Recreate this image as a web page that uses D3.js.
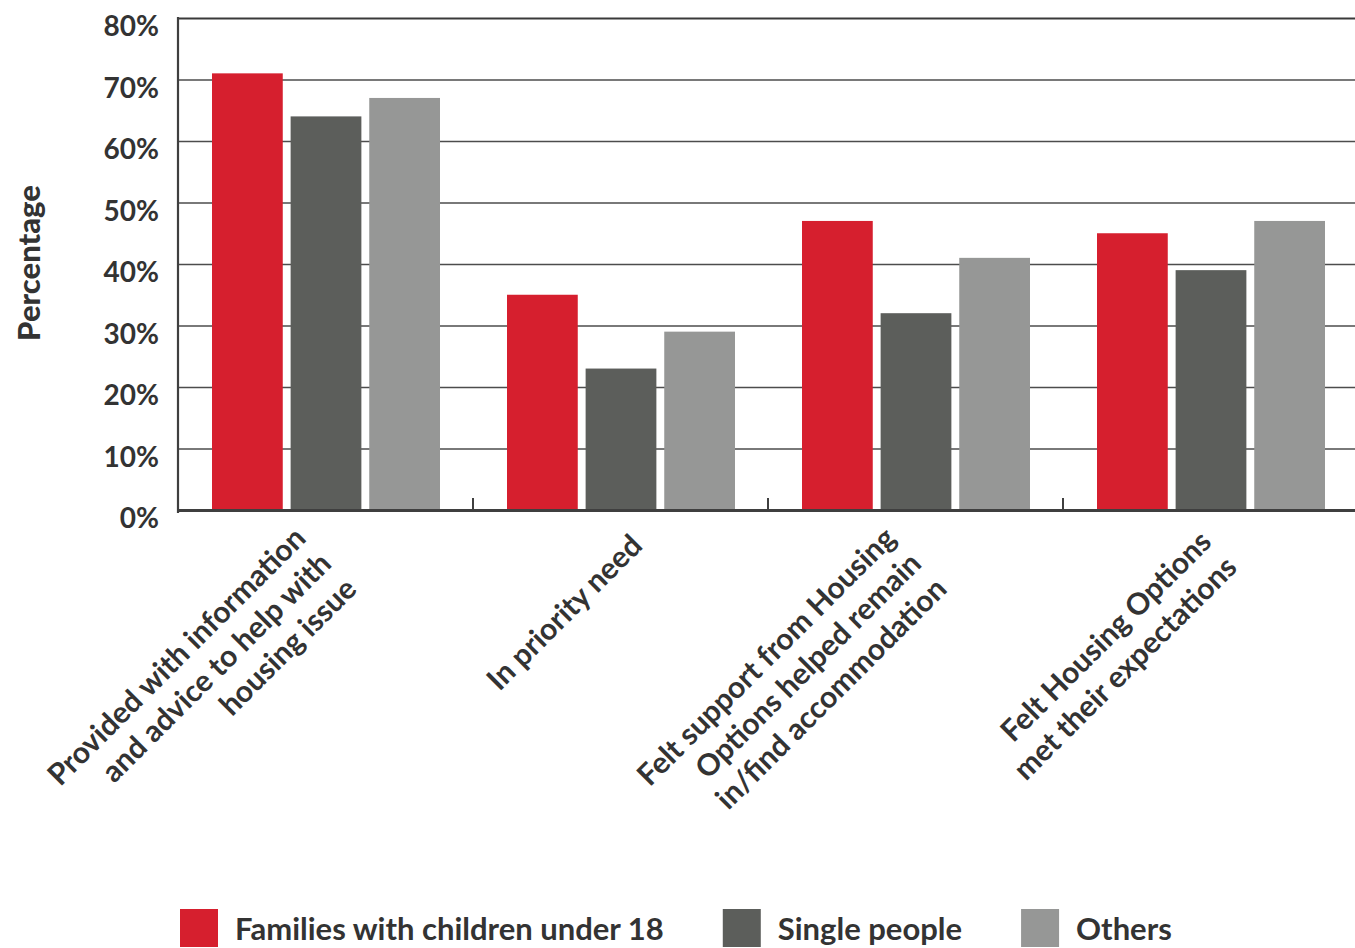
<!DOCTYPE html>
<html>
<head>
<meta charset="utf-8">
<script src="https://cdn.jsdelivr.net/npm/d3@7"></script>
<style>
  html, body { margin: 0; padding: 0; background: #fff; }
  svg { display: block; }
  text { font-family: Lato, "Noto Sans", sans-serif; fill: #333; }
</style>
</head>
<body>
<svg id="chart" width="1355" height="948"></svg>
<script>
// Survey outcomes by household type (percent of respondents)
const categoryLines = [
  ["Provided with information", "and advice to help with", "housing issue"],
  ["In priority need"],
  ["Felt support from Housing", "Options helped remain", "in/find accommodation"],
  ["Felt Housing Options", "met their expectations"]
];
const seriesNames = ["Families with children under 18", "Single people", "Others"];
const families = [71, 35, 47, 45];
const singlePeople = [64, 23, 32, 39];
const others = [67, 29, 41, 47];
const yTicks = [0, 10, 20, 30, 40, 50, 60, 70, 80];
const colors = ["#d61f2e", "#5c5e5b", "#969796"];

(function () {
  const seriesValues = [families, singlePeople, others];
  const rows = categoryLines.map((lines, i) => ({
    key: i,
    lines,
    values: seriesValues.map((vals, s) => ({ series: s, value: vals[i] }))
  }));

  const svg = d3.select("#chart");
  const plotLeft = 178, plotRight = 1358, plotTop = 18, plotBottom = 510;

  const x0 = d3.scaleBand().domain(rows.map(d => d.key)).range([plotLeft, plotRight]).padding(0);
  const x1 = d3.scaleBand().domain(d3.range(seriesNames.length))
    .range([34, x0.bandwidth() - 33]).paddingInner(0.1).paddingOuter(0);
  const y = d3.scaleLinear().domain([0, 80]).range([plotBottom, plotTop]);

  // Horizontal gridlines
  const grid = svg.append("g")
    .attr("transform", `translate(${plotLeft},0)`)
    .call(d3.axisLeft(y).tickValues(yTicks).tickSize(-(1355 - plotLeft)).tickFormat(""));
  grid.select(".domain").remove();
  grid.selectAll(".tick line")
    .attr("stroke", d => d === 80 ? "#3a3a3a" : "#4d4d4d")
    .attr("stroke-width", d => d === 80 ? 2.2 : 1.6);

  // Y tick labels (sit slightly below their gridline)
  svg.append("g").selectAll("text")
    .data(yTicks)
    .join("text")
    .attr("x", 159)
    .attr("y", d => y(d) + 8)
    .attr("dy", "0.36em")
    .attr("text-anchor", "end")
    .attr("font-size", 28)
    .attr("font-weight", 700)
    .text(d => d + "%");

  // Bars
  const groups = svg.append("g").selectAll("g")
    .data(rows)
    .join("g")
    .attr("transform", d => `translate(${x0(d.key)},0)`);
  groups.selectAll("rect")
    .data(d => d.values)
    .join("rect")
    .attr("x", d => x1(d.series))
    .attr("width", x1.bandwidth())
    .attr("y", d => y(d.value))
    .attr("height", d => y(0) - y(d.value))
    .attr("fill", d => colors[d.series]);

  // Left axis line
  svg.append("line")
    .attr("x1", plotLeft).attr("x2", plotLeft)
    .attr("y1", plotTop - 1).attr("y2", plotBottom + 3)
    .attr("stroke", "#3f3f3f").attr("stroke-width", 2.2);

  // Bottom axis line with category separators
  svg.append("line")
    .attr("x1", plotLeft).attr("x2", 1355)
    .attr("y1", plotBottom + 0.5).attr("y2", plotBottom + 0.5)
    .attr("stroke", "#3f3f3f").attr("stroke-width", 3);
  svg.append("g").selectAll("line")
    .data(rows.slice(1))
    .join("line")
    .attr("x1", d => x0(d.key)).attr("x2", d => x0(d.key))
    .attr("y1", plotBottom - 12).attr("y2", plotBottom)
    .attr("stroke", "#3f3f3f").attr("stroke-width", 2);

  // Rotated category labels (right-aligned blocks)
  const lineH = 36;
  const labels = svg.append("g").selectAll("g")
    .data(rows)
    .join("g")
    .attr("transform", d => {
      const n = d.lines.length;
      const cx = x0(d.key) + x0.bandwidth() / 2;
      return `translate(${cx + 16 - 8 * (n - 1)},${540 + 9 * (n - 1)}) rotate(-45)`;
    });
  labels.selectAll("text")
    .data(d => d.lines.map((t, i) => ({ t, i, n: d.lines.length })))
    .join("text")
    .attr("x", 0)
    .attr("y", d => (d.i - (d.n - 1) / 2) * lineH)
    .attr("dy", "0.35em")
    .attr("text-anchor", "end")
    .attr("font-size", 30)
    .attr("font-weight", 700)
    .text(d => d.t);

  // Y axis title
  svg.append("text")
    .attr("transform", "translate(40,263) rotate(-90)")
    .attr("text-anchor", "middle")
    .attr("font-size", 31)
    .attr("font-weight", 900)
    .text("Percentage");

  // Legend
  const legend = svg.append("g").attr("transform", "translate(180,909)");
  let lx = 0;
  seriesNames.forEach((name, i) => {
    const item = legend.append("g").attr("transform", `translate(${lx},0)`);
    item.append("rect").attr("width", 38).attr("height", 38).attr("fill", colors[i]);
    const t = item.append("text")
      .attr("x", 55).attr("y", 20).attr("dy", "0.36em")
      .attr("font-size", 31).attr("font-weight", 700)
      .text(name);
    lx += 55 + t.node().getComputedTextLength() + 59;
  });
})();
</script>
</body>
</html>
